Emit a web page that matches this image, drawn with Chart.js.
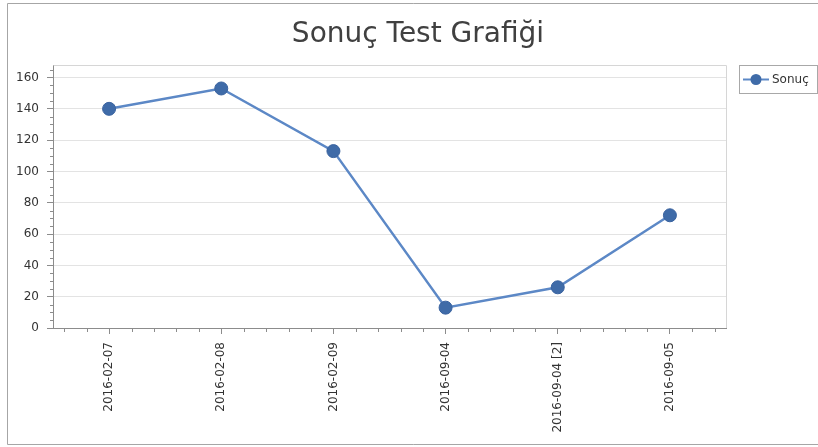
<!DOCTYPE html>
<html>
<head>
<meta charset="utf-8">
<script src="https://cdn.jsdelivr.net/npm/chart.js@4"></script>
<style>
  html, body { margin: 0; padding: 0; background: #fff; }
</style>
</head>
<body>
<canvas id="sonucChart" width="818" height="447"></canvas>
<script>
const chartTitle = 'Sonuç Test Grafiği'
const seriesName = 'Sonuç'
const dates = ['2016-02-07', '2016-02-08', '2016-02-09', '2016-09-04', '2016-09-04 [2]', '2016-09-05']
const sonucValues = [140, 153, 113, 13, 26, 72]

const axisColor = '#8c8c8c'
const lineColor = '#5c88c6'
const pointColor = '#3f6ba8'

// frame, title, plot border, minor ticks and legend box
const decorations = {
  id: 'decorations',
  beforeDraw(chart) {
    const ctx = chart.ctx
    ctx.save()
    ctx.fillStyle = '#fff'
    ctx.fillRect(0, 0, chart.width, chart.height)
    ctx.strokeStyle = '#a6a6a6'
    ctx.lineWidth = 1
    ctx.beginPath()
    ctx.moveTo(820, 3.5)
    ctx.lineTo(7.5, 3.5)
    ctx.lineTo(7.5, 444.5)
    ctx.lineTo(820, 444.5)
    ctx.stroke()

    ctx.fillStyle = '#404040'
    ctx.font = '28px "DejaVu Sans"'
    ctx.textAlign = 'center'
    ctx.textBaseline = 'alphabetic'
    ctx.fillText(chartTitle, 418, 42)
    ctx.restore()
  },
  afterDraw(chart) {
    const ctx = chart.ctx
    const area = chart.chartArea
    const x = chart.scales.x
    const y = chart.scales.y
    ctx.save()
    ctx.lineWidth = 1
    ctx.strokeStyle = '#d6d6d6'
    ctx.beginPath()
    ctx.moveTo(Math.round(area.left) + 0.5, Math.round(area.top) + 0.5)
    ctx.lineTo(Math.round(area.right) + 0.5, Math.round(area.top) + 0.5)
    ctx.lineTo(Math.round(area.right) + 0.5, Math.round(area.bottom))
    ctx.stroke()

    // minor ticks
    ctx.strokeStyle = axisColor
    ctx.beginPath()
    for (let v = 5; v <= 165; v += 5) {
      if (v % 20 === 0) continue
      const py = Math.round(y.getPixelForValue(v)) + 0.5
      ctx.moveTo(area.left - 3, py)
      ctx.lineTo(area.left, py)
    }
    for (let i = -2; i <= dates.length * 5 - 3; i++) {
      if ((i % 5 + 5) % 5 === 0) continue
      const px = Math.round(x.getPixelForValue(i / 5)) + 0.5
      if (px < area.left || px > area.right) continue
      ctx.moveTo(px, area.bottom)
      ctx.lineTo(px, area.bottom + 4)
    }
    ctx.stroke()

    // legend
    const lx = 739.5, ly = 65.5, lw = 78, lh = 28
    ctx.strokeStyle = '#a8a8a8'
    ctx.strokeRect(lx, ly, lw, lh)
    const cy = ly + lh / 2
    ctx.strokeStyle = lineColor
    ctx.lineWidth = 2
    ctx.beginPath()
    ctx.moveTo(743, cy)
    ctx.lineTo(769, cy)
    ctx.stroke()
    ctx.fillStyle = pointColor
    ctx.beginPath()
    ctx.arc(756, cy, 5.5, 0, Math.PI * 2)
    ctx.fill()
    ctx.fillStyle = '#333'
    ctx.font = '12px "DejaVu Sans"'
    ctx.textAlign = 'left'
    ctx.textBaseline = 'middle'
    ctx.fillText(seriesName, 772, cy)
    ctx.restore()
  }
}

const ctx = document.getElementById('sonucChart').getContext('2d')
new Chart(ctx, {
  type: 'line',
  data: {
    labels: dates,
    datasets: [{
      label: seriesName,
      data: sonucValues,
      borderColor: lineColor,
      borderWidth: 2.5,
      pointRadius: 6.5,
      pointHoverRadius: 6.5,
      pointBackgroundColor: pointColor,
      pointBorderColor: '#3a63a0',
      pointBorderWidth: 1,
      tension: 0
    }]
  },
  options: {
    responsive: false,
    animation: false,
    layout: {
      padding: { top: 65, right: 92, bottom: 0, left: 0 }
    },
    plugins: {
      legend: { display: false },
      title: { display: false },
      tooltip: { enabled: false }
    },
    scales: {
      x: {
        offset: true,
        grid: {
          drawOnChartArea: false,
          tickLength: 6,
          tickColor: axisColor,
          offset: false
        },
        border: { color: axisColor },
        ticks: {
          minRotation: 90,
          maxRotation: 90,
          autoSkip: false,
          padding: 8,
          color: '#333',
          font: { family: 'DejaVu Sans', size: 12 }
        },
        afterFit(scale) { scale.height = 119 }
      },
      y: {
        min: 0,
        max: 168,
        grid: {
          color: '#e3e3e3',
          tickLength: 6,
          tickColor: axisColor
        },
        border: { color: axisColor },
        ticks: {
          stepSize: 20,
          includeBounds: false,
          padding: 8,
          color: '#333',
          font: { family: 'DejaVu Sans', size: 12 }
        },
        afterFit(scale) { scale.width = 53 }
      }
    }
  },
  plugins: [decorations]
})
</script>
</body>
</html>
